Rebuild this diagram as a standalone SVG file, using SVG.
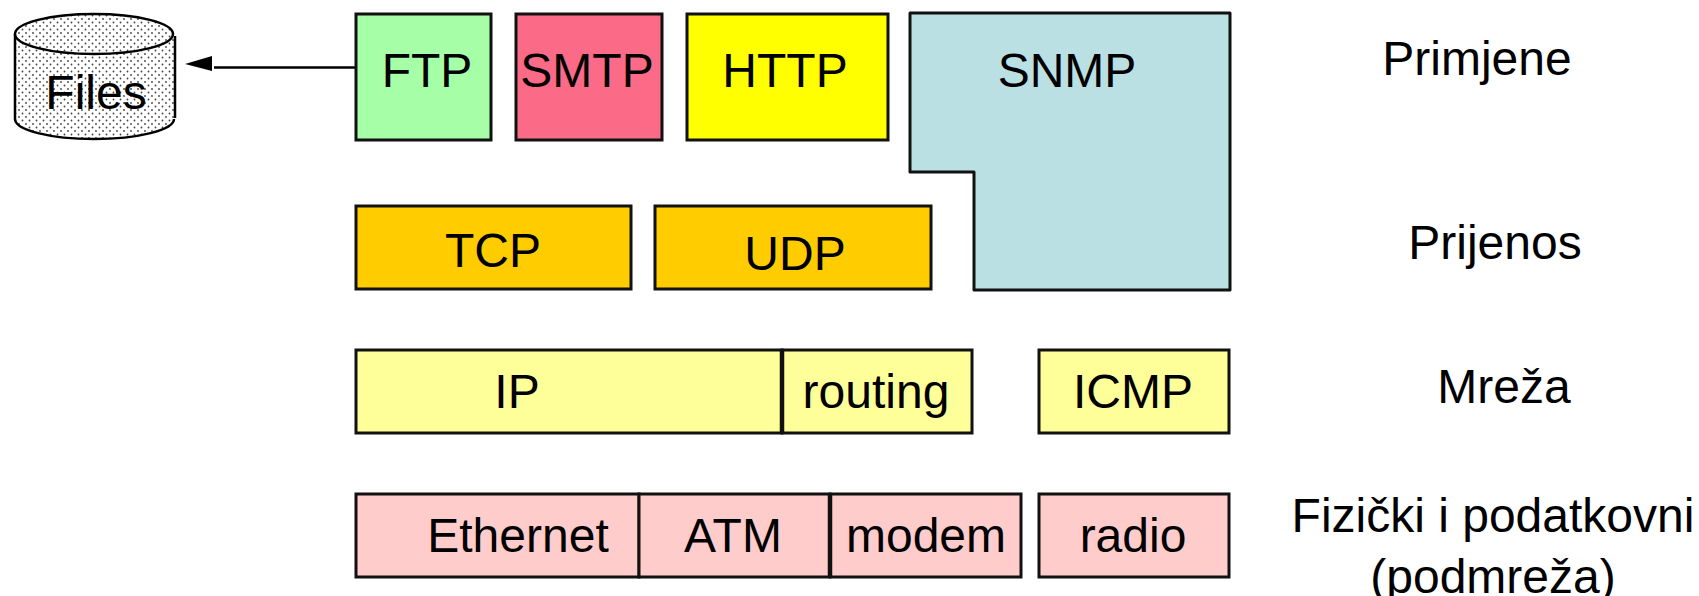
<svg xmlns="http://www.w3.org/2000/svg" width="1699" height="596" viewBox="0 0 1699 596">
<style>
.b{stroke:#111;stroke-width:3}
.d{stroke:#111;stroke-width:4.500;fill:none}
.t{font-family:"Liberation Sans",Arial,sans-serif;font-size:48px;fill:#000;text-anchor:middle}
</style>
<defs>
<pattern id="dots" width="7" height="7" patternUnits="userSpaceOnUse">
<rect width="7" height="7" fill="#fff"/>
<circle cx="1.5" cy="1.5" r="0.9" fill="#444"/><circle cx="5" cy="5" r="0.9" fill="#444"/>
</pattern>
</defs>
<rect width="1699" height="596" fill="#fff"/>
<g id="connectors"><path d="M356 67.500H214" fill="none" stroke="#000" stroke-width="2.500"/><path d="M212 56V71L185 64Z" fill="#000"/></g>
<g id="files"><path d="M15 34V119C15 130 50 139 94 139S174 130 174 119V34Z" fill="url(#dots)" stroke="none"/><path d="M15 34V119C15 130 50 139 94 139S174 130 174 119M175 36V118" fill="none" stroke="#000" stroke-width="2.500"/><ellipse cx="94" cy="34" rx="79" ry="20" fill="url(#dots)" stroke="#000" stroke-width="2.500"/><text class="t" x="96" y="109">Files</text></g>
<g id="ftp"><rect class="b" x="356" y="14" width="135" height="126" fill="#a6ffa6"/><text class="t" x="427" y="87">FTP</text></g>
<g id="smtp"><rect class="b" x="516" y="14" width="146" height="126" fill="#fb6a86"/><text class="t" x="587" y="87">SMTP</text></g>
<g id="http"><rect class="b" x="687" y="14" width="201" height="126" fill="#ffff00"/><text class="t" x="785" y="87">HTTP</text></g>
<g id="snmp"><path class="b" d="M910 13H1230V290H974V172H910Z" fill="#bbe0e3" stroke-linejoin="round"/><text class="t" x="1067" y="87">SNMP</text></g>
<g id="tcp"><rect class="b" x="356" y="206" width="275" height="83" fill="#ffcc00"/><text class="t" x="493" y="267">TCP</text></g>
<g id="udp"><rect class="b" x="655" y="206" width="276" height="83" fill="#ffcc00"/><text class="t" x="795" y="270">UDP</text></g>
<g id="ip"><rect class="b" x="356" y="350" width="426" height="83" fill="#ffff99"/><text class="t" x="517" y="408">IP</text></g>
<g id="routing"><rect class="b" x="782" y="350" width="190" height="83" fill="#ffff99"/><path class="d" d="M782 350V433"/><text class="t" x="876" y="408">routing</text></g>
<g id="icmp"><rect class="b" x="1039" y="350" width="190" height="83" fill="#ffff99"/><text class="t" x="1133" y="408">ICMP</text></g>
<g id="ethernet"><rect class="b" x="356" y="494" width="283" height="83" fill="#ffcccc"/><text class="t" x="518" y="552">Ethernet</text></g>
<g id="atm"><rect class="b" x="639" y="494" width="191" height="83" fill="#ffcccc"/><text class="t" x="733" y="552">ATM</text></g>
<g id="modem"><rect class="b" x="830" y="494" width="191" height="83" fill="#ffcccc"/><path class="d" d="M830 494V577"/><text class="t" x="926" y="552">modem</text></g>
<g id="radio"><rect class="b" x="1039" y="494" width="190" height="83" fill="#ffcccc"/><text class="t" x="1133" y="552">radio</text></g>
<g id="labels"><text class="t" x="1477" y="75">Primjene</text><text class="t" x="1495" y="259">Prijenos</text><text class="t" x="1504" y="403">Mreža</text><text class="t" x="1493" y="532">Fizički i podatkovni</text><text class="t" x="1493" y="593">(podmreža)</text></g>
</svg>
